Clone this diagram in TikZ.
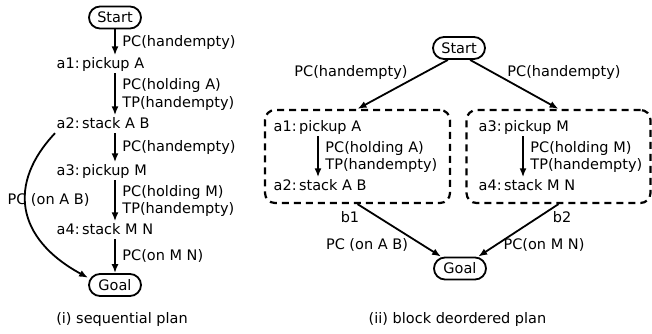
\documentclass[tikz,border=0pt]{standalone}
\usepackage{fontspec}
\setmainfont{DejaVu Sans}
\usetikzlibrary{arrows.meta}

\begin{document}
\frenchspacing
\begin{tikzpicture}[x=1pt, y=1pt,
		font=\fontsize{14.5}{17.5}\selectfont,
		every node/.style={inner sep=1.5pt},
		stepnode/.style={anchor=base west, text height=11pt, text depth=3.5pt},
		endnode/.style={draw, line width=1.8pt, rounded corners=11pt, minimum width=52pt, minimum height=22pt, inner xsep=6pt},
		blockbox/.style={draw, dash pattern=on 7pt off 5pt, line width=2.2pt, rounded corners=10pt},
		link/.style={-{Latex[length=9pt,width=7pt]}, line width=1.8pt},
		cond/.style={right, align=left, xshift=5pt}]
		\useasboundingbox ( 0, 0 ) rectangle ( 652, 333 );

		% последовательный план
		\coordinate (axis) at ( 115, 0 );
		\node [endnode] (start) at ( 115, 315.5 ) {Start};
		\node [stepnode] (a1) at ( 55, 265 ) {a1:\,pickup A};
		\node [stepnode] (a2) at ( 55, 205 ) {a2:\,stack A B};
		\node [stepnode] (a3) at ( 55, 158 ) {a3:\,pickup M};
		\node [stepnode] (a4) at ( 55, 99 ) {a4:\,stack M N};
		\node [endnode] (goal) at ( 115, 48 ) {Goal};

		\draw [link] (start) -- (start |- a1.north) node [cond, midway] {PC(handempty)};
		\draw [link] (a1.south -| axis) -- (a2.north -| axis) node [cond, midway] {PC(holding A)\\TP(handempty)};
		\draw [link] (a2.south -| axis) -- (a3.north -| axis) node [cond, midway] {PC(handempty)};
		\draw [link] (a3.south -| axis) -- (a4.north -| axis) node [cond, midway] {PC(holding M)\\TP(handempty)};
		\draw [link] (a4.south -| axis) -- (goal) node [cond, midway] {PC(on M N)};
		\draw [link] (a2.south west) .. controls ( 8, 150 ) and ( 15, 95 ) .. (goal.165);
		\node (onab) at ( 48.5, 133 ) {PC (on A B)};
		\node (cap1) at ( 122, 14 ) {(i) sequential plan};

		% план с блоками
		\node [endnode] (rstart) at ( 459, 285 ) {Start};
		\node [blockbox, minimum width=185pt, minimum height=93pt] (blk1) at ( 357.5, 176.5 ) {};
		\node [blockbox, minimum width=184pt, minimum height=93pt] (blk2) at ( 558.5, 176.5 ) {};
		\node [endnode] (rgoal) at ( 460, 64.5 ) {Goal};

		\draw [link] (rstart.227) -- (blk1.north);
		\draw [link] (rstart.313) -- (blk2.north);
		\node (hand1) at ( 351, 261 ) {PC(handempty)};
		\node (hand2) at ( 564, 261 ) {PC(handempty)};

		% блок b1
		\coordinate (baxis1) at ( 318, 0 );
		\node [stepnode] (r1) at ( 272, 202 ) {a1:\,pickup A};
		\node [stepnode] (r2) at ( 272, 143 ) {a2:\,stack A B};
		\draw [link] (r1.south -| baxis1) -- (r2.north -| baxis1) node [cond, midway] {PC(holding A)\\TP(handempty)};

		% блок b2
		\coordinate (baxis2) at ( 523, 0 );
		\node [stepnode] (r3) at ( 477, 202 ) {a3:\,pickup M};
		\node [stepnode] (r4) at ( 477, 143 ) {a4:\,stack M N};
		\draw [link] (r3.south -| baxis2) -- (r4.north -| baxis2) node [cond, midway] {PC(holding M)\\TP(handempty)};

		\draw [link] (blk1.south) -- (rgoal);
		\draw [link] (blk2.south) -- (rgoal);
		\node (nb1) at ( 350, 116 ) {b1};
		\node (nb2) at ( 562, 116 ) {b2};
		\node (onab2) at ( 367, 88 ) {PC (on A B)};
		\node (onmn) at ( 544, 88 ) {PC(on M N)};
		\node (cap2) at ( 457.5, 14 ) {(ii) block deordered plan};
	\end{tikzpicture}
\end{document}
